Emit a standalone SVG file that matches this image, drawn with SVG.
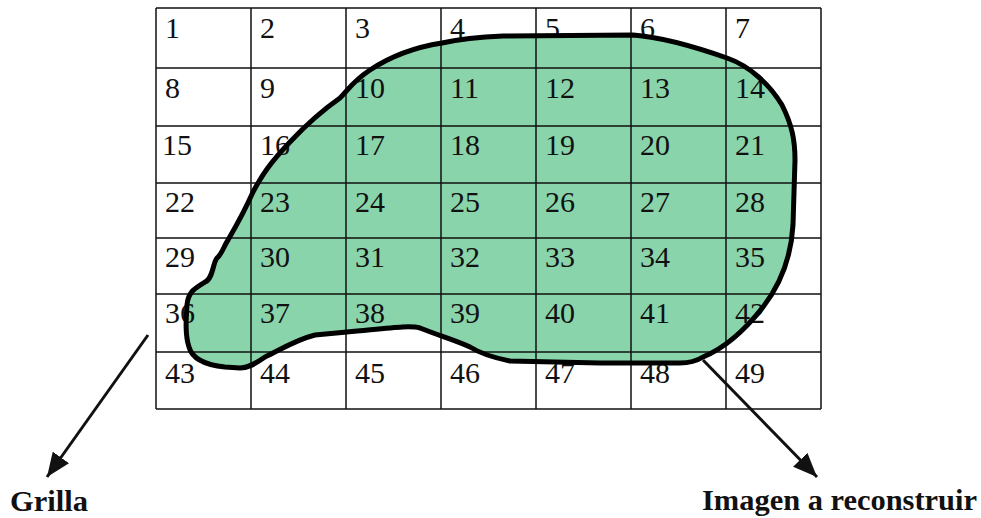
<svg xmlns="http://www.w3.org/2000/svg" width="981" height="518" viewBox="0 0 981 518">
<style>
.g{stroke:#111;stroke-width:1.5;fill:none}
.n{font-family:"Liberation Serif","DejaVu Serif",serif;font-size:30px;fill:#111}
.lbl{font-family:"Liberation Serif","DejaVu Serif",serif;font-size:29px;font-weight:bold;fill:#111}
.arr{stroke:#111;stroke-width:3;fill:none}
</style>
<defs>
<path id="blob" d="M442,43 C460,39 480,37 503,36 L633,35 C660,37 690,45 727,58 C750,66 770,85 782,105 C792,125 795,140 795,160 L793,225 C791,260 780,285 763,307 C745,330 725,348 703,357 C695,362 688,363 680,363 L600,363 L510,361 C490,357 478,352 470,347 C455,340 440,336 420,328 C410,325 390,328 347,332 L315,335 C295,340 280,350 265,357 C255,364 248,368 240,368 L225,367 C205,365 192,358 189,347 C185,335 186,320 187,305 C188,292 195,288 205,282 C213,279 213,262 217,258 C222,254 224,246 228,240 C235,228 245,210 253,192 C262,175 270,163 290,142 C305,126 320,112 340,98 C350,88 352,82 370,70 C385,60 410,48 442,43 Z"/>
<marker id="ah2" viewBox="0 0 24 20" refX="24" refY="10" markerWidth="24" markerHeight="20" markerUnits="userSpaceOnUse" orient="auto">
<path d="M0,0 L24,10 L0,20 Z" fill="#111"/>
</marker>
</defs>
<rect width="981" height="518" fill="#fff"/>
<g id="shape-fill">
<use href="#blob" fill="#89d4ab"/>
</g>
<g id="grid">
<path class="g" d="M156,8 V409 M251,8 V409 M346,8 V409 M441,8 V409 M536,8 V409 M631,8 V409 M726,8 V409 M821,8 V409 M156,8 H821 M156,68 H821 M156,126 H821 M156,183 H821 M156,238 H821 M156,294 H821 M156,352 H821 M156,409 H821"/>
</g>
<g id="cells" class="n">
<text x="165" y="38">1</text><text x="260" y="38">2</text><text x="355" y="38">3</text><text x="450" y="38">4</text><text x="545" y="38">5</text><text x="640" y="38">6</text><text x="735" y="38">7</text>
<text x="165" y="98">8</text><text x="260" y="98">9</text><text x="355" y="98">10</text><text x="450" y="98">11</text><text x="545" y="98">12</text><text x="640" y="98">13</text><text x="735" y="98">14</text>
<text x="162" y="155">15</text><text x="260" y="155">16</text><text x="355" y="155">17</text><text x="450" y="155">18</text><text x="545" y="155">19</text><text x="640" y="155">20</text><text x="735" y="155">21</text>
<text x="165" y="212">22</text><text x="260" y="212">23</text><text x="355" y="212">24</text><text x="450" y="212">25</text><text x="545" y="212">26</text><text x="640" y="212">27</text><text x="735" y="212">28</text>
<text x="165" y="267">29</text><text x="260" y="267">30</text><text x="355" y="267">31</text><text x="450" y="267">32</text><text x="545" y="267">33</text><text x="640" y="267">34</text><text x="735" y="267">35</text>
<text x="165" y="323">36</text><text x="260" y="323">37</text><text x="355" y="323">38</text><text x="450" y="323">39</text><text x="545" y="323">40</text><text x="640" y="323">41</text><text x="735" y="323">42</text>
<text x="165" y="383">43</text><text x="260" y="383">44</text><text x="355" y="383">45</text><text x="450" y="383">46</text><text x="545" y="383">47</text><text x="640" y="383">48</text><text x="735" y="383">49</text>
</g>
<g id="imagen-outline">
<use href="#blob" fill="none" stroke="#000" stroke-width="5" stroke-linejoin="round"/>
</g>
<g id="connectors">
<path class="arr" d="M148,335 L47,477" marker-end="url(#ah2)"/>
<path class="arr" d="M703,360 L817,477" marker-end="url(#ah2)"/>
</g>
<g id="label-grilla"><text class="lbl" x="10" y="511" textLength="78" lengthAdjust="spacingAndGlyphs">Grilla</text></g>
<g id="label-imagen"><text class="lbl" x="702" y="510" textLength="275" lengthAdjust="spacingAndGlyphs">Imagen a reconstruir</text></g>
</svg>
